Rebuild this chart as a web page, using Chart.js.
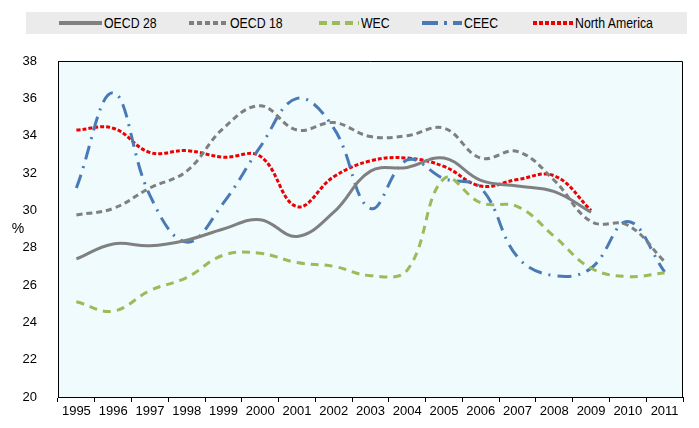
<!DOCTYPE html>
<html>
<head>
<meta charset="utf-8">
<script src="https://cdn.jsdelivr.net/npm/chart.js@4/dist/chart.umd.min.js"></script>
<style>
  html, body { margin: 0; padding: 0; background: #fff; }
  #wrap { position: relative; width: 699px; height: 428px; }
  #legend { position: absolute; left: 26px; top: 12px; width: 661px; height: 22px; background: #ebebeb; }
  .item { position: absolute; top: 0; height: 22px; font-family: 'Liberation Sans', Arial, sans-serif; font-size: 15px; color: #000; line-height: 22px; white-space: nowrap; }
  .item svg { position: absolute; top: 9px; left: 0; }
  .item span { position: absolute; top: 0; transform: scaleX(0.82); transform-origin: 0 50%; }
</style>
</head>
<body>
<div id="wrap">
  <canvas id="c" width="699" height="428"></canvas>
  <div id="legend"></div>
</div>
<script>
const years = ['1995','1996','1997','1998','1999','2000','2001','2002','2003','2004','2005','2006','2007','2008','2009','2010','2011'];
const oecd28 = [27.4, 28.2, 28.1, 28.4, 29.0, 29.5, 28.6, 29.9, 32.1, 32.3, 32.8, 31.6, 31.3, 31.0, 29.9, null, null];
const oecd18 = [29.75, 30.1, 31.2, 32.1, 34.4, 35.6, 34.3, 34.7, 33.95, 34.0, 34.4, 32.8, 33.15, 31.6, 29.4, 29.2, 27.25];
const wec = [25.1, 24.6, 25.7, 26.4, 27.6, 27.7, 27.2, 27.0, 26.5, 26.8, 31.7, 30.4, 30.2, 28.6, 26.9, 26.45, 26.65];
const ceec = [31.2, 36.3, 30.8, 28.3, 30.4, 33.4, 36.0, 34.4, 30.1, 32.7, 31.7, 31.2, 27.5, 26.5, 26.9, 29.4, 26.7];
const northAmerica = [34.3, 34.4, 33.1, 33.2, 32.85, 32.9, 30.2, 31.8, 32.65, 32.8, 32.35, 31.3, 31.65, 31.85, 30.0, null, null];
const yTicks = [20, 22, 24, 26, 28, 30, 32, 34, 36, 38];
const yUnit = '%';

const FONT = "'Liberation Sans', Arial, sans-serif";

const series = [
  { label: 'OECD 28', data: oecd28, color: '#808080', dash: [], lw: 3 },
  { label: 'OECD 18', data: oecd18, color: '#7f7f7f', dash: [6, 4], lw: 3 },
  { label: 'WEC', data: wec, color: '#9bbb59', dash: [8, 6], lw: 3 },
  { label: 'CEEC', data: ceec, color: '#4a7ab5', dash: [14, 7, 2, 7], lw: 3 },
  { label: 'North America', data: northAmerica, color: '#ee0000', dash: [4, 2], lw: 3 }
];

// HTML legend (positions relative to legend box)
const legendPos = [
  { line: 33, text: 78 },
  { line: 163, text: 204 },
  { line: 293, text: 335 },
  { line: 396, text: 438 },
  { line: 507, text: 549 }
];
const legendDash = [[], [5, 3], [8, 5], [16, 6, 3, 6], [4, 2]];
const lg = document.getElementById('legend');
series.forEach((s, i) => {
  const p = legendPos[i];
  const d = document.createElement('div');
  d.className = 'item';
  d.style.left = p.line + 'px';
  const w = p.text - p.line - 2;
  d.innerHTML = '<svg width="' + w + '" height="4"><line x1="0" y1="2" x2="' + w + '" y2="2" stroke="' + s.color +
    '" stroke-width="4" stroke-dasharray="' + (legendDash[i].length ? legendDash[i].join(',') : 'none') + '"/></svg>' +
    '<span style="left:' + (p.text - p.line) + 'px">' + s.label + '</span>';
  lg.appendChild(d);
});

const framePlugin = {
  id: 'frame',
  beforeDraw(chart) {
    const a = chart.chartArea, ctx = chart.ctx;
    ctx.save();
    ctx.fillStyle = '#effbfd';
    ctx.fillRect(a.left, a.top, a.right - a.left, a.bottom - a.top);
    ctx.restore();
  },
  afterDraw(chart) {
    const a = chart.chartArea, ctx = chart.ctx;
    ctx.save();
    ctx.strokeStyle = '#000';
    ctx.lineWidth = 1;
    ctx.beginPath();
    ctx.moveTo(a.left, a.top + 0.5);
    ctx.lineTo(a.right - 0.5, a.top + 0.5);
    ctx.lineTo(a.right - 0.5, a.bottom);
    ctx.stroke();
    ctx.fillStyle = '#000';
    ctx.font = '14px ' + FONT;
    ctx.textAlign = 'center';
    ctx.textBaseline = 'middle';
    ctx.fillText(yUnit, 18, (a.top + a.bottom) / 2);
    ctx.restore();
  }
};

new Chart(document.getElementById('c'), {
  type: 'line',
  data: {
    labels: years,
    datasets: series.map(s => ({
      label: s.label,
      data: s.data,
      borderColor: s.color,
      backgroundColor: s.color,
      borderDash: s.dash,
      borderWidth: s.lw,
      pointRadius: 0,
      tension: 0.4,
      fill: false,
      spanGaps: false
    }))
  },
  options: {
    responsive: false,
    animation: false,
    layout: { padding: { top: 61, right: 16, left: 0, bottom: 0 } },
    plugins: { legend: { display: false }, tooltip: { enabled: false } },
    scales: {
      x: {
        offset: true,
        grid: { display: true, drawOnChartArea: false, drawTicks: true, tickLength: 5, color: '#000', offset: true },
        border: { display: true, color: '#000', width: 1 },
        ticks: { color: '#000', font: { family: FONT, size: 13 }, padding: 2, maxRotation: 0, autoSkip: false },
        afterFit(scale) { scale.height = 31; }
      },
      y: {
        min: 20, max: 38,
        afterBuildTicks(scale) { scale.ticks = yTicks.map(v => ({ value: v })); },
        grid: { display: false },
        border: { display: true, color: '#000', width: 1 },
        ticks: { color: '#000', font: { family: FONT, size: 13 }, padding: 13 },
        afterFit(scale) { scale.width = 58; }
      }
    }
  },
  plugins: [framePlugin]
});
</script>
</body>
</html>
